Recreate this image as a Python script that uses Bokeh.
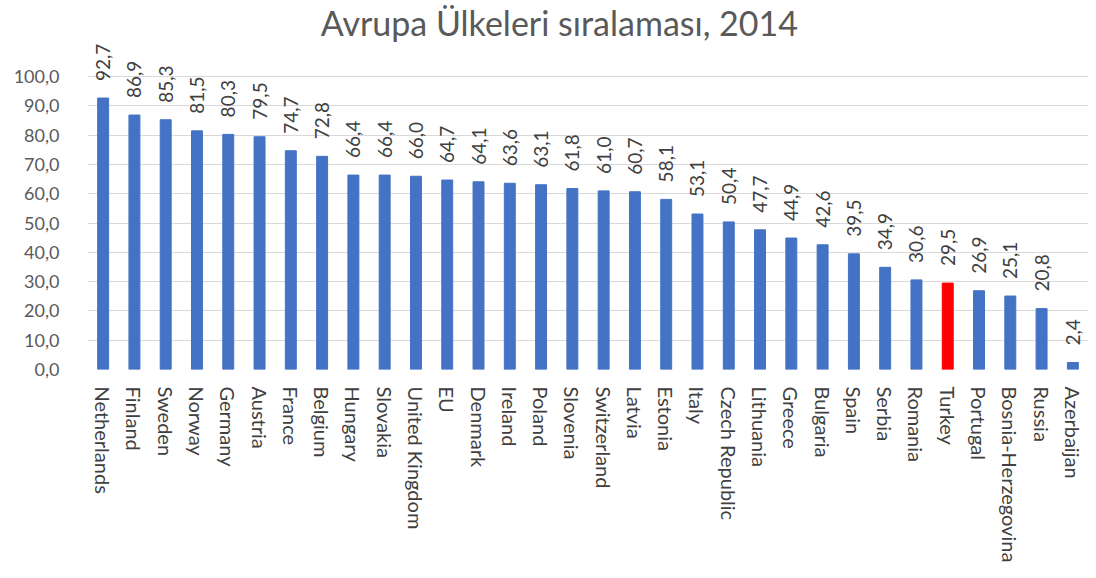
import math
from bokeh.plotting import figure
from bokeh.models import ColumnDataSource, FixedTicker, LabelSet, Range1d, FactorRange
from bokeh.core.properties import value
from bokeh.embed import file_html
from bokeh.resources import INLINE

countries = ["Netherlands", "Finland", "Sweden", "Norway", "Germany", "Austria", "France",
             "Belgium", "Hungary", "Slovakia", "United Kingdom", "EU", "Denmark", "Ireland",
             "Poland", "Slovenia", "Switzerland", "Latvia", "Estonia", "Italy", "Czech Republic",
             "Lithuania", "Greece", "Bulgaria", "Spain", "Serbia", "Romania", "Turkey",
             "Portugal", "Bosnia-Herzegovina", "Russia", "Azerbaijan"]
values = [92.7, 86.9, 85.3, 81.5, 80.3, 79.5, 74.7, 72.8, 66.4, 66.4, 66.0, 64.7, 64.1, 63.6,
          63.1, 61.8, 61.0, 60.7, 58.1, 53.1, 50.4, 47.7, 44.9, 42.6, 39.5, 34.9, 30.6, 29.5,
          26.9, 25.1, 20.8, 2.4]
highlight = "Turkey"
y_ticks = [0, 10, 20, 30, 40, 50, 60, 70, 80, 90, 100]
title_text = "Avrupa Ülkeleri sıralaması, 2014"

FONT = "Lato"
colors = ["#FF0000" if c == highlight else "#4472C4" for c in countries]
labels = [f"{v:.1f}".replace(".", ",") for v in values]

src = ColumnDataSource(dict(x=countries, top=values, color=colors, label=labels))

p = figure(width=1088, height=570, x_range=FactorRange(*countries, range_padding=0),
           y_range=Range1d(0, 125), output_backend="svg", toolbar_location=None,
           min_border_left=87, min_border_right=0, min_border_top=3, min_border_bottom=201)
p.x_range.factor_padding = 0
p.outline_line_color = None
p.background_fill_color = "white"
p.border_fill_color = "white"

title_src = ColumnDataSource(dict(x=[countries[15]], y=[114], t=[title_text]))
title = LabelSet(x="x", y="y", text="t", source=title_src, text_align="center",
                 text_baseline="alphabetic", x_offset=-13,
                 text_font=value(FONT), text_font_size=value("34px"), text_color="#595959")
p.add_layout(title)

p.vbar(x="x", top="top", width=0.35, color="color", source=src)

lbl = LabelSet(x="x", y="top", text="label", source=src, angle=math.pi / 2,
               text_align="left", text_baseline="middle", y_offset=17,
               text_font=value(FONT), text_font_size=value("19px"), text_color="#404040")
p.add_layout(lbl)

p.yaxis.ticker = FixedTicker(ticks=y_ticks)
p.yaxis.major_label_overrides = {t: f"{t:.1f}".replace(".", ",") for t in y_ticks}
p.yaxis.axis_line_color = None
p.yaxis.major_tick_line_color = None
p.yaxis.minor_tick_line_color = None
p.yaxis.major_label_standoff = 22
p.yaxis.major_label_text_font = FONT
p.yaxis.major_label_text_font_size = "18px"
p.yaxis.major_label_text_color = "#595959"

p.xaxis.axis_line_color = None
p.xaxis.major_tick_line_color = None
p.xaxis.major_label_orientation = "vertical"
p.xaxis.major_label_standoff = 11
p.xaxis.major_label_text_font = FONT
p.xaxis.major_label_text_font_size = "20px"
p.xaxis.major_label_text_color = "#404040"

p.xgrid.grid_line_color = None
p.ygrid.grid_line_color = "#D9D9D9"
p.ygrid.grid_line_width = 1

open("out.html", "w").write(file_html(p, INLINE))
